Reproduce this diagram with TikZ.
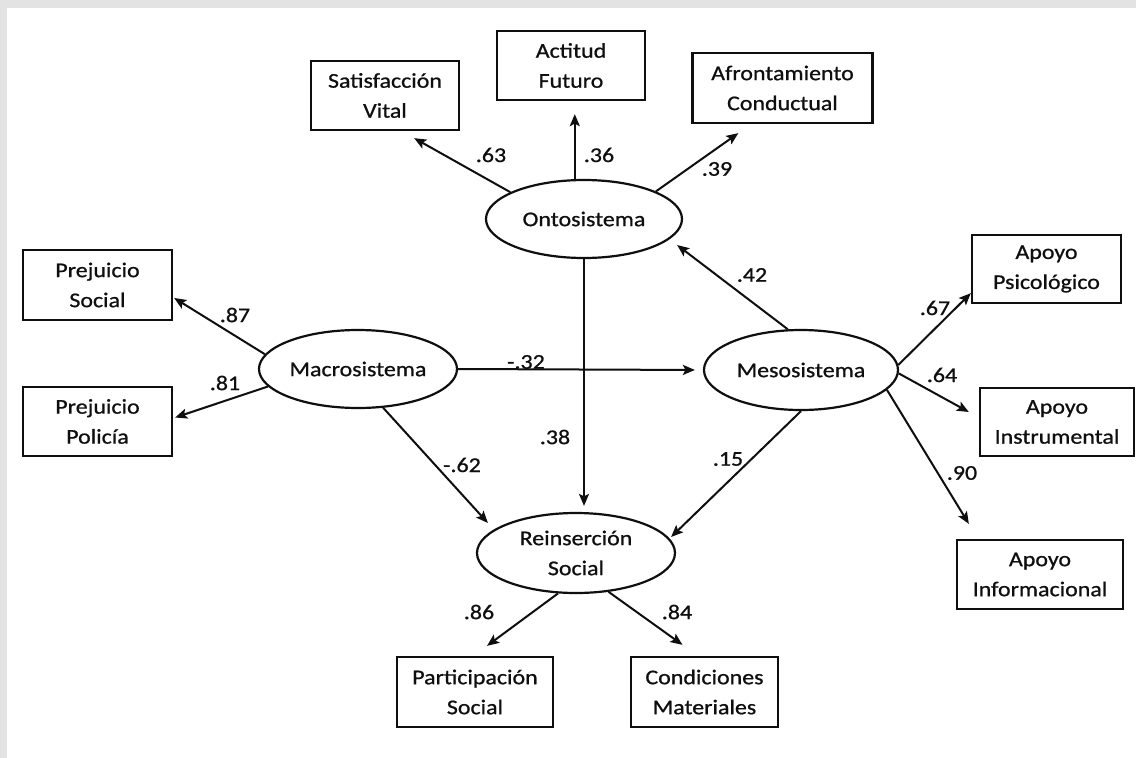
\documentclass[tikz,border=0pt]{standalone}
\usepackage{fontspec}
\setmainfont{Carlito}[FakeStretch=1.14, FakeBold=0.8]
\usetikzlibrary{arrows.meta,shapes.geometric,calc}
\definecolor{bggray}{RGB}{227,227,227}
\definecolor{ink}{RGB}{15,15,15}
\begin{document}
\begin{tikzpicture}[x=1pt,y=-1pt,
  txt/.style={font=\fontsize{21pt}{30pt}\selectfont, text=ink},
  obs/.style={rectangle, draw=ink, line width=2.3pt, inner sep=0pt, align=center, txt},
  lat/.style={ellipse, draw=ink, line width=2.2pt, inner sep=0pt, align=center, txt},
  arr/.style={draw=ink, line width=2pt, -{Stealth[length=12pt,width=10pt,inset=2.5pt]}},
  lbl/.style={inner sep=0pt, txt}]
\useasboundingbox (0,0) rectangle (1136,758);
\fill[bggray] (0,0) rectangle (1136,758);
\fill[white] (7,8) rectangle (1136,758);

% observed variables
\node[obs, minimum width=148pt, minimum height=69pt] (sat) at (385,95.5) {Satisfacción\\Vital};
\node[obs, minimum width=148pt, minimum height=69pt] (act) at (571,65.5) {Actitud\\Futuro};
\node[obs, minimum width=180pt, minimum height=70pt] (afr) at (782.5,88) {Afrontamiento\\Conductual};
\node[obs, minimum width=149pt, minimum height=70pt] (ps) at (97.5,285) {Prejuicio\\Social};
\node[obs, minimum width=149pt, minimum height=69pt] (pp) at (97.5,421.5) {Prejuicio\\Policía};
\node[obs, minimum width=149pt, minimum height=68pt] (apsi) at (1046.5,269) {Apoyo\\Psicológico};
\node[obs, minimum width=154pt, minimum height=68pt] (ains) at (1057,422) {Apoyo\\Instrumental};
\node[obs, minimum width=166pt, minimum height=69pt] (ainf) at (1040,574.5) {Apoyo\\Informacional};
\node[obs, minimum width=156pt, minimum height=70pt] (part) at (475,692) {Participación\\Social};
\node[obs, minimum width=147pt, minimum height=70pt] (cond) at (704.5,692) {Condiciones\\Materiales};

% latent variables
\node[lat, minimum width=196pt, minimum height=78pt] (onto) at (584,219) {Ontosistema};
\node[lat, minimum width=198pt, minimum height=78pt] (macro) at (358,369) {Macrosistema};
\node[lat, minimum width=194pt, minimum height=80pt] (meso) at (801,370) {Mesosistema};
\node[lat, minimum width=198pt, minimum height=80pt] (reins) at (576,553) {Reinserción\\Social};

% connectors
\draw[arr] (onto.160) -- ($(sat.south east)+(-46,7)$);
\draw[arr] (onto.103) -- ($(onto.103 |- act.south)+(0,13)$);
\draw[arr] (onto.21) -- ($(afr.south west)+(47,9)$);
\draw[arr] (macro.171) -- ($(ps.east)+(1,13)$);
\draw[arr] (macro.191) -- ($(pp.east)+(2,-4)$);
\draw[arr, shorten >=8pt] (macro.east) -- (meso.west);
\draw[arr] (meso.108) -- ($(onto.east)+(-6,26)$);
\draw[arr, shorten >=6pt] (onto.south) -- (onto.south |- reins.north);
\draw[arr] (macro.-57) -- ($(reins.west)+(12,-30)$);
\draw[arr] (meso.south) -- ($(reins.east)+(-5,-16)$);
\draw[arr] (meso.3) -- ($(apsi.south west)+(0,-11)$);
\draw[arr] (meso.-2) -- ($(ains.west)+(-10,-10)$);
\draw[arr] (meso.-13) -- ($(ainf.north west)+(13,-15)$);
\draw[arr] (reins.-114) -- ($(part.north)+(12,-10)$);
\draw[arr] (reins.-50) -- ($(cond.north)+(-22,-11)$);

% coefficients
\node[lbl] (l63) at (491,155) {.63};
\node[lbl] (l36) at (599,155) {.36};
\node[lbl] (l39) at (717,169) {.39};
\node[lbl] (l87) at (235,315) {.87};
\node[lbl] (l81) at (225,383) {.81};
\node[lbl] (l32) at (526,362) {-.32};
\node[lbl] (l42) at (752,275) {.42};
\node[lbl] (l67) at (935,308) {.67};
\node[lbl] (l64) at (942,375) {.64};
\node[lbl] (l90) at (962,473) {.90};
\node[lbl] (l38) at (555,437) {.38};
\node[lbl] (l62) at (462,465) {-.62};
\node[lbl] (l15) at (728,459) {.15};
\node[lbl] (l86) at (479,612) {.86};
\node[lbl] (l84) at (677,612) {.84};
\end{tikzpicture}
\end{document}
